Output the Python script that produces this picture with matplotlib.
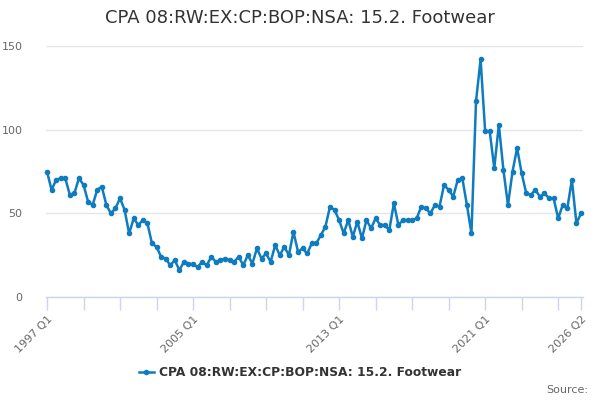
import matplotlib
matplotlib.use("Agg")
import matplotlib.pyplot as plt
from matplotlib.lines import Line2D

# quarterly categories 1997 Q1 .. 2026 Q2
quarters = ["%d Q%d" % (y, q) for y in range(1997, 2027) for q in range(1, 5)][:118]

values = [75, 64, 70, 71, 71, 61, 62, 71, 67, 57,
          55, 64, 66, 55, 50, 53, 59, 52, 38, 47,
          43, 46, 44, 32, 30, 24, 23, 19, 22, 16,
          21, 20, 19.5, 18, 21, 19, 24, 21, 22, 23,
          22, 21, 24, 19, 25, 20, 29, 23, 26, 21,
          31, 25, 30, 25, 39, 27, 29, 26, 32, 32,
          37, 42, 54, 52, 46, 38, 46, 36, 45, 35,
          46, 41, 47, 43, 43, 40, 56, 43, 46, 46,
          46, 47, 54, 53, 50, 55, 54, 67, 64, 60,
          70, 71, 55, 38, 117, 142, 99, 99, 77, 103,
          76, 55, 75, 89, 74, 62, 61, 64, 60, 62,
          59, 59, 47, 55, 53, 70, 44, 50]

series_name = "CPA 08:RW:EX:CP:BOP:NSA: 15.2. Footwear"
title = "CPA 08:RW:EX:CP:BOP:NSA: 15.2. Footwear"
yticks = [0, 50, 100, 150]
tick_pos = list(range(0, 113, 8)) + [117]
label_pos = [0, 32, 64, 96, 117]

line_color = "#0f7cc0"
axis_color = "#ccd6eb"
grid_color = "#e6e6e6"

fig = plt.figure(figsize=(6, 4), dpi=100)
W, H = 600, 400
ax = fig.add_axes([46 / W, (H - 297) / H, (583 - 46) / W, (297 - 46) / H])

x = list(range(len(values)))
ax.plot(x, values, color=line_color, lw=1.8, marker="o", ms=3,
        clip_on=False, zorder=3)

ax.set_xlim(-0.22, 117.44)
ax.set_ylim(0, 150)

ax.set_yticks(yticks)
ax.set_yticklabels([str(v) for v in yticks], fontsize=8, color="#666666")
ax.yaxis.grid(True, color=grid_color, lw=1)
ax.set_axisbelow(True)
ax.tick_params(axis="y", length=0, pad=17)

ax.set_xticks(tick_pos)
ax.set_xticklabels([quarters[i] if i in label_pos else "" for i in tick_pos],
                   fontsize=8, color="#666666", rotation=45,
                   ha="right", va="top", rotation_mode="anchor")
ax.tick_params(axis="x", length=9, width=1, color=axis_color, pad=3)

for s in ["top", "right", "left"]:
    ax.spines[s].set_visible(False)
ax.spines["bottom"].set_color(axis_color)
ax.spines["bottom"].set_linewidth(1)

fig.text(0.5, 1 - 18 / H, title, ha="center", va="center",
         fontsize=13, color="#333333")

handle = Line2D([], [], color=line_color, lw=1.8, marker="o", ms=3)
fig.legend([handle], [series_name], loc="center", bbox_to_anchor=(0.5, 1 - 373 / H),
           frameon=False, prop={"size": 8.8, "weight": "bold"},
           labelcolor="#333333", handlelength=1.2, handletextpad=0.4)

fig.text(588 / W, 1 - 390 / H, "Source:", ha="right", va="center",
         fontsize=8, color="#666666")

fig.savefig("out.png", dpi=100)
